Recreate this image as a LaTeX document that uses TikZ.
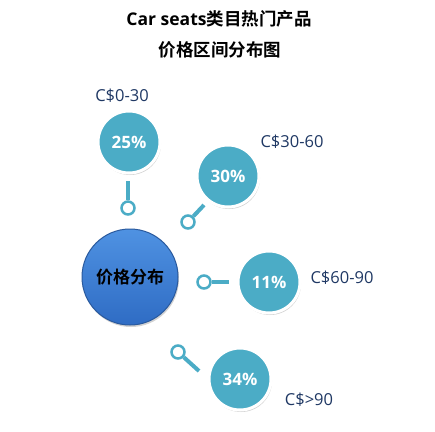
\documentclass[tikz,border=0pt]{standalone}
\usepackage{fontspec}
\setmainfont{Open Sans}
\newfontfamily\cjk{Noto Sans CJK SC}[BoldFont={Noto Sans CJK SC Bold}]
\usetikzlibrary{shadows}

\definecolor{tealdot}{HTML}{4BACC6}
\definecolor{navytext}{HTML}{1F3864}
\definecolor{bluetop}{HTML}{4F92E2}
\definecolor{bluebot}{HTML}{2F6CC4}
\definecolor{blueedge}{HTML}{2A5A9E}

\tikzset{
  share/.style={circle, fill=tealdot, draw=white, line width=3pt, minimum size=62pt,
    inner sep=0pt, text=white, font=\fontsize{17}{17}\selectfont\bfseries,
    drop shadow={shadow xshift=1pt, shadow yshift=-2pt, opacity=0.35}},
  pricelabel/.style={text=navytext, font=\fontsize{16.5}{16.5}\selectfont, inner sep=0pt},
  ring/.style={circle, draw=tealdot, line width=2.5pt, fill=white, minimum size=13pt, inner sep=0pt},
  stem/.style={draw=tealdot, line width=4pt}
}

\begin{document}
\begin{tikzpicture}[x=1pt, y=-1pt]

    \useasboundingbox[fill=white] (0,0) rectangle (435,431);

    % Title
    \node[font=\fontsize{17.5}{17.5}\selectfont\bfseries] (title1) at (219,19) {Car seats\cjk 类目热门产品};
    \node[font=\fontsize{17.5}{17.5}\selectfont\bfseries\cjk] (title2) at (220,50) {价格区间分布图};

    % Centre
    \node[circle, minimum size=96pt, inner sep=0pt, top color=bluetop, bottom color=bluebot,
          draw=blueedge, line width=1pt, font=\fontsize{17}{17}\selectfont\bfseries\cjk,
          drop shadow={shadow xshift=1pt, shadow yshift=-2pt, opacity=0.35}] (dist) at (130,277) {价格分布};

    % Shares
    \node[share] (p25) at (129,142) {25\%};
    \node[share] (p30) at (228,176) {30\%};
    \node[share] (p11) at (269,282) {11\%};
    \node[share] (p34) at (240,379) {34\%};

    % Price ranges
    \node[pricelabel] (l25) at (122,96) {C\$0-30};
    \node[pricelabel] (l30) at (292,142) {C\$30-60};
    \node[pricelabel] (l11) at (342,278) {C\$60-90};
    \node[pricelabel] (l34) at (309,400) {C\$>90};

    % Pins
    \coordinate (s25) at (128,181);
    \coordinate (s30) at (204,205);
    \coordinate (s11) at (229,282);
    \coordinate (s34) at (199,371);

    \node[ring] (r25) at (128,208) {};
    \node[ring] (r30) at (188,222) {};
    \node[ring] (r11) at (204,282) {};
    \node[ring] (r34) at (178,352) {};

    \draw[stem] (r25) -- (s25);
    \draw[stem] (r30) -- (s30);
    \draw[stem] (r11) -- (s11);
    \draw[stem] (r34) -- (s34);

\end{tikzpicture}
\end{document}
